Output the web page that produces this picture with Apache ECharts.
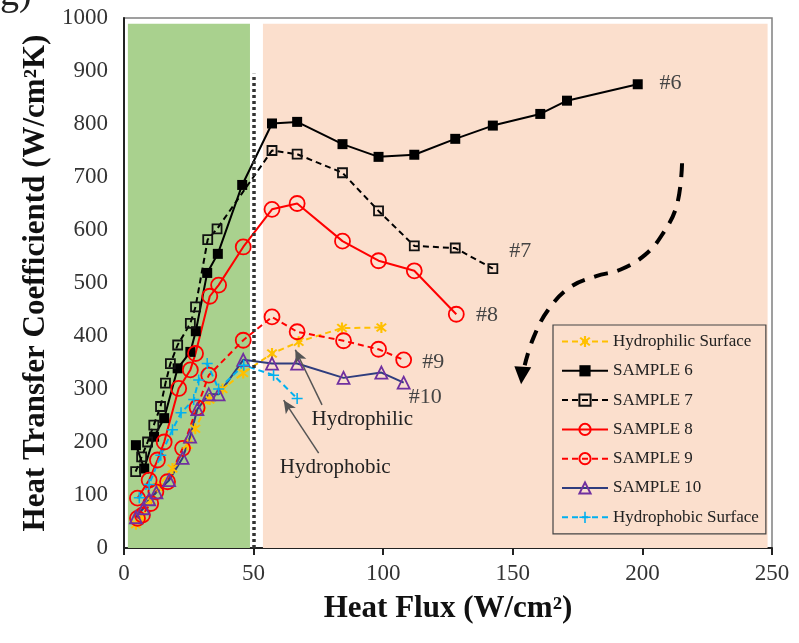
<!DOCTYPE html>
<html>
<head>
<meta charset="utf-8">
<script src="https://cdn.jsdelivr.net/npm/echarts@6/dist/echarts.min.js"></script>
<style>
  html, body { margin: 0; padding: 0; background: #fff; }
  #chart { width: 799px; height: 643px; }
</style>
</head>
<body>
<div id="chart"></div>
<script>
// heat flux (W/cm2) vs heat transfer coefficient
const philicX = [4.6, 7.1, 10.3, 13, 18.7, 24.5, 27.5, 33, 38, 46, 57.1, 67.4, 84.1, 99.3];
const philicY = [45, 58, 90, 115, 150, 195, 225, 280, 300, 330, 367, 389, 415, 416];

const s6X = [4.6, 7.8, 11.6, 15.5, 20.7, 25.6, 27.7, 32.1, 36.2, 45.6, 57.1, 66.8, 84.3, 98.2, 112, 127.8, 142.3, 160.6, 170.9, 198.2];
const s6Y = [194, 150, 210, 245, 339, 370, 409, 519, 555, 685, 801, 804, 762, 738, 742, 772, 797, 819, 844, 875];

const s7X = [4.5, 6.8, 9.1, 11.5, 14.1, 16, 17.9, 20.7, 25.6, 27.6, 32.3, 35.9, 57.1, 66.8, 84.3, 98.2, 112, 127.8, 142.3];
const s7Y = [144, 172, 200, 232, 267, 311, 348, 383, 424, 455, 582, 602, 750, 743, 708, 636, 570, 566, 527];

const s8X = [5.2, 9.7, 12.9, 15.5, 21.1, 25.6, 27.6, 33.1, 36.5, 46, 57.1, 66.8, 84.3, 98.2, 112, 128.2];
const s8Y = [94, 128, 166, 200, 301, 336, 367, 475, 496, 568, 639, 650, 579, 542, 523, 441];

const s9X = [5.2, 7.1, 10.3, 12.3, 16.8, 22.6, 28.2, 32.7, 46, 57.1, 66.8, 84.7, 98.2, 107.9];
const s9Y = [56, 62, 84, 106, 125, 188, 265, 326, 392, 436, 408, 391, 375, 355];

const s10X = [4.6, 7.5, 9.7, 12.5, 17.4, 22.6, 25.5, 28.3, 32.7, 36.5, 46, 57.1, 66.8, 84.7, 99.3, 107.9];
const s10Y = [58, 75, 92, 105, 128, 170, 210, 262, 290, 290, 355, 348, 348, 321, 331, 312];

const phobicX = [5.9, 9.7, 14.2, 18.7, 22, 26.9, 28.8, 32.1, 36.5, 46.2, 57.7, 66.8];
const phobicY = [95, 120, 175, 223, 255, 280, 317, 348, 300, 345, 326, 282];

// sample tags next to curve ends
const tagText = ['#6', '#7', '#8', '#9', '#10'];
const tagX = [210.8, 152.9, 140, 119.3, 116.2];
const tagY = [877, 560, 440, 351, 285];

// curved trend arrow (data coords)
const trendX = [215.3, 213.3, 207.6, 201, 191.4, 182.2, 172.1, 163.6, 157.9, 154.6];
const trendY = [726, 647, 591, 553, 525, 513, 492, 449, 396, 345];

const serif = 'Liberation Serif';
const pair = (xs, ys) => xs.map((x, i) => [x, ys[i]]);

const asterisk = 'path://M-0.8,-5L0.8,-5L0.8,5L-0.8,5Z M-4.11,-2.97L-2.97,-4.11L4.11,2.97L2.97,4.11Z M-2.97,4.11L-4.11,2.97L2.97,-4.11L4.11,-2.97Z';
const plus = 'path://M-0.7,-5L0.7,-5L0.7,5L-0.7,5Z M-5,-0.7L5,-0.7L5,0.7L-5,0.7Z';

const chartDom = document.getElementById('chart');
const myChart = echarts.init(chartDom, null, { renderer: 'canvas' });

function lineSeries(name, data, color, dashed, symbol, size, symColor, filled) {
  return {
    name: name,
    type: 'line',
    data: data,
    symbol: symbol,
    symbolSize: size,
    z: 3,
    lineStyle: { color: color, width: 2, type: dashed ? [6, 4] : 'solid' },
    itemStyle: filled
      ? { color: symColor, borderColor: symColor, borderWidth: 0 }
      : { color: 'rgba(0,0,0,0)', borderColor: symColor, borderWidth: 1.8 },
  };
}

const names = ['Hydrophilic Surface', 'SAMPLE 6', 'SAMPLE 7', 'SAMPLE 8', 'SAMPLE 9', 'SAMPLE 10', 'Hydrophobic Surface'];

const option = {
  animation: false,
  backgroundColor: '#fff',
  grid: {
    left: 124, right: 27, top: 18, bottom: 95,
    show: true, borderColor: '#808080', borderWidth: 1.5,
  },
  xAxis: {
    type: 'value', min: 0, max: 250, interval: 50,
    name: 'Heat Flux (W/cm²)', nameLocation: 'middle', nameGap: 45,
    nameTextStyle: { fontFamily: serif, fontWeight: 'bold', fontSize: 31, color: '#111' },
    axisLine: { show: true, lineStyle: { color: '#222', width: 2 } },
    axisTick: { show: true, inside: false, length: 7, lineStyle: { color: '#222', width: 2 } },
    axisLabel: { fontFamily: serif, fontSize: 23, color: '#333', margin: 14 },
    splitLine: { show: false },
  },
  yAxis: {
    type: 'value', min: 0, max: 1000, interval: 100,
    name: 'Heat Transfer Coefficientd (W/cm²K)', nameLocation: 'middle', nameGap: 70,
    nameTextStyle: { fontFamily: serif, fontWeight: 'bold', fontSize: 31, color: '#111' },
    axisLine: { show: true, lineStyle: { color: '#222', width: 2 } },
    axisTick: { show: false },
    axisLabel: { fontFamily: serif, fontSize: 23, color: '#333', margin: 16, formatter: (v) => String(v) },
    splitLine: { show: false },
  },
  legend: {
    data: names,
    orient: 'vertical',
    left: 553, top: 325,
    itemWidth: 46, itemHeight: 14, itemGap: 12.3,
    padding: [8, 7, 8, 8],
    borderColor: '#444', borderWidth: 1.2,
    textStyle: { fontFamily: serif, fontSize: 17, color: '#222' },
  },
  series: [
    {
      name: 'bg', type: 'line', data: [], silent: true, z: 1,
      markArea: {
        silent: true,
        data: [
          [{ coord: [1.5, 0], itemStyle: { color: '#a9d18e' } }, { coord: [48.6, 989] }],
          [{ coord: [53.6, 0], itemStyle: { color: '#fbdfcd' } }, { coord: [248.3, 989] }],
        ],
      },
      markLine: {
        silent: true, symbol: ['none', 'none'], label: { show: false },
        lineStyle: { color: '#333', width: 3.5, type: [3, 3] },
        data: [[{ coord: [50, 0] }, { coord: [50, 895] }]],
      },
    },
    lineSeries(names[0], pair(philicX, philicY), '#ffc000', true, asterisk, 11, '#ffc000', true),
    lineSeries(names[1], pair(s6X, s6Y), '#000', false, 'rect', 10, '#000', true),
    lineSeries(names[2], pair(s7X, s7Y), '#000', true, 'rect', 9, '#111', false),
    lineSeries(names[3], pair(s8X, s8Y), '#ff0000', false, 'circle', 15, '#ff0000', false),
    lineSeries(names[4], pair(s9X, s9Y), '#ff0000', true, 'circle', 15, '#ff0000', false),
    lineSeries(names[5], pair(s10X, s10Y), '#2f3d7e', false, 'triangle', 12, '#7030a0', false),
    Object.assign(lineSeries(names[6], pair(phobicX, phobicY), '#00b0f0', true, plus, 11, '#00b0f0', true), {
      markLine: {
        silent: true, symbol: ['none', 'arrow'], symbolSize: [9, 13], label: { show: false },
        lineStyle: { color: '#555', width: 1.5, type: 'solid' },
        data: [
          [{ coord: [76.4, 270] }, { coord: [66.1, 374] }],
          [{ coord: [75.1, 179] }, { coord: [61.6, 279] }],
        ],
      },
    }),
  ],
};

myChart.setOption(option);

// annotations placed through the axes' own scale
const px = (x, y) => myChart.convertToPixel({ gridIndex: 0 }, [x, y]);
const graphics = [];
tagText.forEach((t, i) => {
  const p = px(tagX[i], tagY[i]);
  graphics.push({
    type: 'text', x: p[0], y: p[1], z: 10,
    style: { text: t, fontFamily: serif, fontSize: 22, fill: '#444', align: 'center', verticalAlign: 'middle' },
  });
});
[['Hydrophilic', 91.9, 243], ['Hydrophobic', 81.5, 151]].forEach((a) => {
  const p = px(a[1], a[2]);
  graphics.push({
    type: 'text', x: p[0], y: p[1], z: 10,
    style: { text: a[0], fontFamily: serif, fontSize: 21, fill: '#222', align: 'center', verticalAlign: 'middle' },
  });
});
const trendPts = trendX.map((x, i) => px(x, trendY[i]));
graphics.push({
  type: 'polyline', z: 10,
  shape: { points: trendPts, smooth: 0.4 },
  style: { stroke: '#000', lineWidth: 4, lineDash: [14, 10], fill: null },
});
const tip = px(153.2, 309);
const bl = px(150.6, 343);
const br = px(157.1, 341);
graphics.push({
  type: 'polygon', z: 10,
  shape: { points: [tip, bl, br] },
  style: { fill: '#000' },
});
// cropped panel letter
graphics.push({
  type: 'text', left: 0, top: -24, z: 10,
  style: { text: 'g)', fontFamily: serif, fontSize: 38, fill: '#222' },
});
myChart.setOption({ graphic: graphics });

window.addEventListener('resize', myChart.resize);
</script>
</body>
</html>
